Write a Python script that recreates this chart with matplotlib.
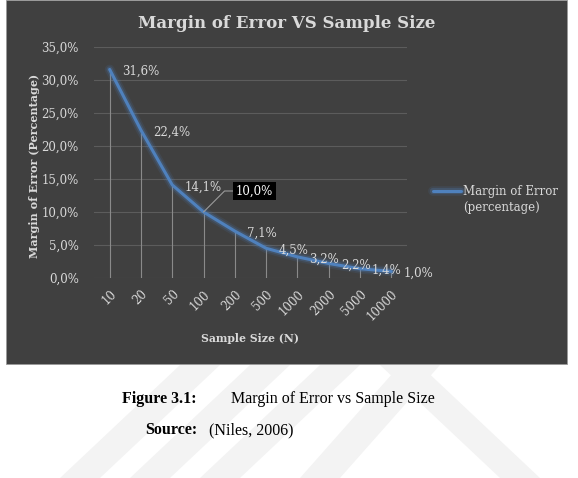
import matplotlib
matplotlib.use("Agg")
import matplotlib.pyplot as plt
from matplotlib.patches import Rectangle, Polygon
import matplotlib.patheffects as pe

categories = ["10", "20", "50", "100", "200", "500", "1000", "2000", "5000", "10000"]
margin_pct = [31.6, 22.4, 14.1, 10.0, 7.1, 4.5, 3.2, 2.2, 1.4, 1.0]
yticks = [0, 5, 10, 15, 20, 25, 30, 35]

W, H = 578, 478
fig = plt.figure(figsize=(W / 100, H / 100), dpi=100)
fig.patch.set_facecolor("white")

# faint watermark stripes below the chart panel
wm = "#f3f3f3"
for pts in [
    [(60, 478), (100, 478), (220, 365), (180, 365)],
    [(130, 478), (170, 478), (290, 365), (250, 365)],
    [(200, 478), (240, 478), (360, 365), (320, 365)],
    [(380, 365), (420, 365), (540, 478), (500, 478)],
    [(300, 478), (340, 478), (440, 365), (400, 365)],
]:
    fig.patches.append(Polygon([(x / W, 1 - y / H) for x, y in pts], closed=True,
                               transform=fig.transFigure, facecolor=wm, edgecolor="none", zorder=0))

# dark chart panel
fig.patches.append(Rectangle((6 / W, 1 - 364 / H), (567 - 6) / W, 364 / H,
                             transform=fig.transFigure, facecolor="#404040",
                             edgecolor="#9a9a9a", linewidth=0.6, zorder=1))

serif = "DejaVu Serif"
txt = "#d9d9d9"
fs = 8.5

ax = fig.add_axes([94 / W, 1 - 278 / H, (407 - 94) / W, (278 - 47) / H])
ax.set_zorder(5)
ax.set_facecolor("none")
x = list(range(len(categories)))
ax.set_xlim(-0.5, len(categories) - 0.5)
ax.set_ylim(0, 35)
ax.set_yticks(yticks)
ax.set_yticklabels([f"{v:.1f}%".replace(".", ",") for v in yticks],
                   fontsize=fs, family=serif, color=txt)
ax.yaxis.grid(True, color="#5c5c5c", linewidth=0.8)
ax.set_axisbelow(True)
ax.tick_params(axis="y", length=0, pad=11)
ax.tick_params(axis="x", length=0, pad=7)
ax.set_xticks(x)
ax.set_xticklabels(categories, rotation=45, ha="right", va="top",
                   rotation_mode="anchor", fontsize=fs, family=serif, color=txt)
for s in ax.spines.values():
    s.set_visible(False)

# drop lines
ax.vlines(x, 0, margin_pct, color="#8a8a8a", linewidth=0.8, zorder=2)

# glow + line
ax.plot(x, margin_pct, color="#4f81bd", linewidth=2.2, zorder=3,
        solid_capstyle="round", solid_joinstyle="round",
        path_effects=[pe.Stroke(linewidth=7, foreground="#4f81bd", alpha=0.12),
                      pe.Stroke(linewidth=4.5, foreground="#4f81bd", alpha=0.25),
                      pe.Normal()],
        label="Margin of Error")

# data labels
for i, v in enumerate(margin_pct):
    lab = f"{v:.1f}%".replace(".", ",")
    if i == 3:
        ax.annotate(lab, xy=(i, v), xytext=(51, 21), textcoords="offset pixels",
                    ha="center", va="center", fontsize=fs, family=serif, color="white",
                    bbox=dict(boxstyle="square,pad=0.25", facecolor="black", edgecolor="none"),
                    arrowprops=dict(arrowstyle="-", color="#9a9a9a", linewidth=0.8,
                                    shrinkA=0, shrinkB=0,
                                    connectionstyle="angle,angleA=0,angleB=45,rad=0"),
                    zorder=5)
    else:
        ax.annotate(lab, xy=(i, v), xytext=(12, -2), textcoords="offset pixels",
                    ha="left", va="center", fontsize=fs, family=serif, color=txt, zorder=4)

ax.set_ylabel("Margin of Error (Percentage)", fontsize=8, family=serif,
              fontweight="bold", color=txt)
ax.yaxis.set_label_coords(-(94 - 40) / (407 - 94), (278 - 166) / (278 - 47))
fig.text(250 / W, 1 - 338 / H, "Sample Size (N)", ha="center", va="center",
         fontsize=7.8, family=serif, fontweight="bold", color=txt, zorder=6)
fig.text(287 / W, 1 - 24 / H, "Margin of Error VS Sample Size", ha="center", va="center",
         fontsize=12, family=serif, fontweight="bold", color=txt, zorder=6)

# legend (handle aligned with first line, as in the reference)
leg = fig.legend(loc="center left", bbox_to_anchor=(422 / W, 1 - 192 / H), frameon=False,
                 prop=dict(family=serif, size=fs), handlelength=2.4, handletextpad=0.2,
                 labelcolor=txt)
leg.set_zorder(6)
fig.text(463 / W, 1 - 208 / H, "(percentage)", ha="left", va="center",
         fontsize=fs, family=serif, color=txt, zorder=6)

# caption
cap = "Liberation Serif"
fig.text(122 / W, 1 - 399 / H, "Figure 3.1:", ha="left", va="center", fontsize=11.5,
         family=cap, fontweight="bold", color="black")
fig.text(231 / W, 1 - 399 / H, "Margin of Error vs Sample Size", ha="left", va="center",
         fontsize=11.5, family=cap, color="black")
fig.text(145 / W, 1 - 430 / H, "Source:", ha="left", va="center", fontsize=11.5,
         family=cap, fontweight="bold", color="black")
fig.text(209 / W, 1 - 430 / H, "(Niles, 2006)", ha="left", va="center", fontsize=11.5,
         family=cap, color="black")

fig.savefig("out.png", dpi=100)
